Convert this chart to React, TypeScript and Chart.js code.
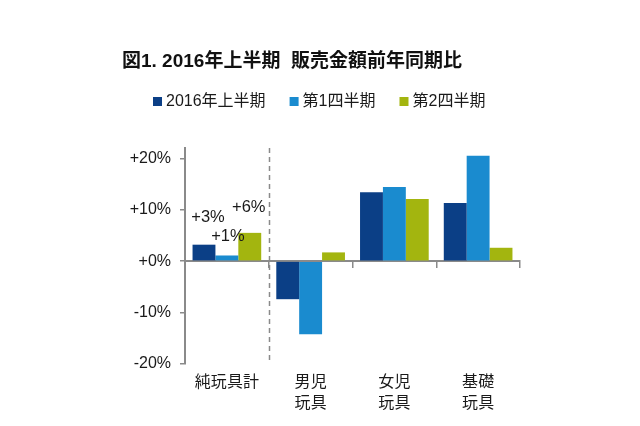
import { useEffect, useRef } from 'react';
import { Chart, registerables } from 'chart.js';

Chart.register(...registerables);

const TITLE = '図1. 2016年上半期  販売金額前年同期比';
const CATEGORIES = ['純玩具計', '男児玩具', '女児玩具', '基礎玩具'];
const CATEGORY_LABELS = [['純玩具計'], ['男児', '玩具'], ['女児', '玩具'], ['基礎', '玩具']];
const SERIES_NAMES = ['2016年上半期', '第1四半期', '第2四半期'];
const H1_2016 = [3.2, -7.4, 13.4, 11.3];
const Q1 = [1.1, -14.2, 14.4, 20.5];
const Q2 = [5.5, 1.7, 12.1, 2.6];
const Y_TICKS = [-20, -10, 0, 10, 20];
const FIRST_CATEGORY_LABELS = ['+3%', '+1%', '+6%'];

const COLORS = ['#0b3f86', '#1a8bcf', '#a3b50f'];
const AXIS_GRAY = '#8a8a8a';
const TEXT = '#1a1a1a';
const FONT = "'Liberation Sans', Arial, 'Noto Sans CJK JP', sans-serif";
const LABEL_OFFSETS = [
  { dx: 4, dy: -27 },
  { dx: 1, dy: -19 },
  { dx: -1, dy: -25 },
];

const decorPlugin = {
  id: 'decor',
  beforeDatasetsDraw(chart: any) {
    const ctx = chart.ctx;
    const x = chart.scales.x;
    const area = chart.chartArea;
    const px = (x.getPixelForValue(0) + x.getPixelForValue(1)) / 2;
    ctx.save();
    ctx.strokeStyle = AXIS_GRAY;
    ctx.lineWidth = 1.5;
    ctx.setLineDash([5, 4]);
    ctx.beginPath();
    ctx.moveTo(Math.round(px) + 0.5, area.top);
    ctx.lineTo(Math.round(px) + 0.5, area.bottom);
    ctx.stroke();
    ctx.restore();
  },
  afterDraw(chart: any) {
    const ctx = chart.ctx;
    ctx.save();
    // Title
    ctx.fillStyle = '#111';
    ctx.font = `bold 19px ${FONT}`;
    ctx.textBaseline = 'middle';
    ctx.textAlign = 'left';
    ctx.fillText(TITLE, 122, 62);

    // Legend
    ctx.font = `16px ${FONT}`;
    let lx = 153;
    chart.data.datasets.forEach((ds: any) => {
      ctx.fillStyle = ds.backgroundColor;
      ctx.fillRect(lx, 97, 9, 9);
      ctx.fillStyle = TEXT;
      ctx.fillText(ds.label, lx + 13, 102);
      lx += 13 + ctx.measureText(ds.label).width + 24;
    });

    // Value labels on first category
    ctx.font = `16.5px ${FONT}`;
    ctx.textAlign = 'center';
    FIRST_CATEGORY_LABELS.forEach((txt, i) => {
      const el = chart.getDatasetMeta(i).data[0];
      if (!el) return;
      const off = LABEL_OFFSETS[i];
      ctx.fillStyle = TEXT;
      ctx.fillText(txt, el.x + off.dx, el.y + off.dy);
    });
    ctx.restore();
  },
};

export default function App() {
  const ref = useRef<HTMLCanvasElement | null>(null);

  useEffect(() => {
    document.body.style.margin = '0';
    if (!ref.current) return;
    const chart = new Chart(ref.current, {
      type: 'bar',
      data: {
        labels: CATEGORIES,
        datasets: [
          { label: SERIES_NAMES[0], data: H1_2016, backgroundColor: COLORS[0] },
          { label: SERIES_NAMES[1], data: Q1, backgroundColor: COLORS[1] },
          { label: SERIES_NAMES[2], data: Q2, backgroundColor: COLORS[2] },
        ],
      },
      options: {
        animation: false,
        responsive: false,
        events: [],
        layout: { padding: { left: 0, right: 120, top: 148, bottom: 0 } },
        datasets: { bar: { categoryPercentage: 0.82, barPercentage: 1 } },
        plugins: {
          legend: { display: false },
          title: { display: false },
          tooltip: { enabled: false },
        },
        scales: {
          x: {
            type: 'category',
            position: { y: 0 },
            offset: true,
            grid: {
              offset: true,
              drawOnChartArea: false,
              drawTicks: true,
              tickLength: 6,
              color: AXIS_GRAY,
              lineWidth: 1.5,
            },
            border: { display: true, color: AXIS_GRAY, width: 2 },
            ticks: { display: false },
          },
          x2: {
            type: 'category',
            position: 'bottom',
            labels: CATEGORY_LABELS as any,
            offset: true,
            grid: { display: false, drawTicks: false },
            border: { display: false },
            ticks: {
              color: TEXT,
              font: { family: FONT, size: 16, lineHeight: 1.3 },
              padding: 8,
              maxRotation: 0,
              autoSkip: false,
            },
            afterFit(scale: any) {
              scale.height = 62;
            },
          },
          y: {
            type: 'linear',
            position: 'left',
            min: -20,
            max: 22,
            grid: {
              drawOnChartArea: false,
              drawTicks: true,
              tickLength: 5,
              color: AXIS_GRAY,
              lineWidth: 1.5,
            },
            border: { display: true, color: AXIS_GRAY, width: 2 },
            afterBuildTicks(scale: any) {
              scale.ticks = Y_TICKS.map((v) => ({ value: v }));
            },
            ticks: {
              color: TEXT,
              font: { family: FONT, size: 16 },
              padding: 9,
              callback: (v: any) => (Number(v) >= 0 ? `+${v}%` : `${v}%`),
            },
            afterFit(scale: any) {
              scale.width = 185;
            },
          },
        },
      },
      plugins: [decorPlugin],
    });
    return () => chart.destroy();
  }, []);

  return (
    <div style={{ width: 640, height: 426, background: '#fff' }}>
      <canvas ref={ref} width={640} height={426} style={{ display: 'block' }} />
    </div>
  );
}
